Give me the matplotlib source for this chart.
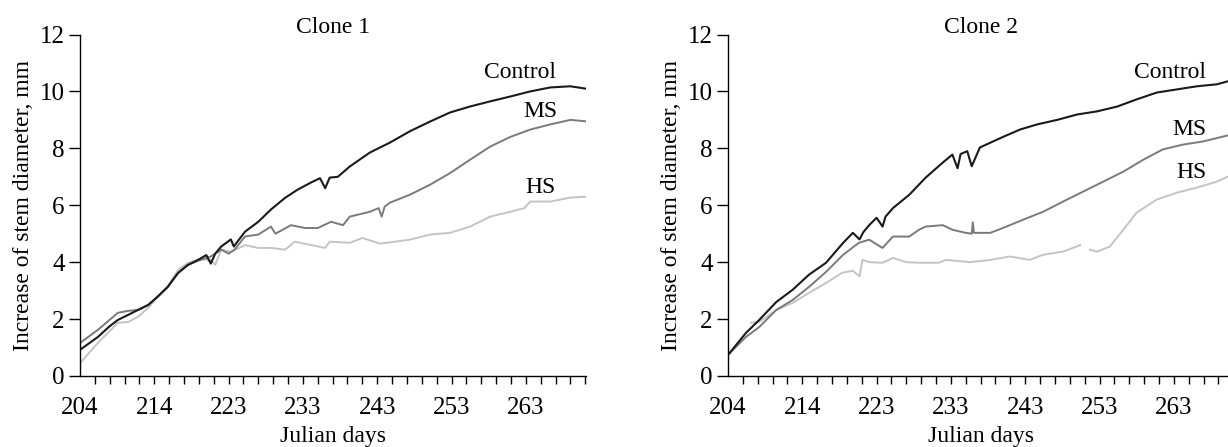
import numpy as np
import matplotlib
matplotlib.use("Agg")
import matplotlib.pyplot as plt

plt.rcParams["font.family"] = ["Liberation Serif", "DejaVu Serif"]
plt.rcParams["font.size"] = 17

# tick label text (the axis itself runs in days, ticks every 2 days)
tick_pos = [204, 214, 224, 234, 244, 254, 264]
tick_text = ["204", "214", "223", "233", "243", "253", "263"]

# ---- Clone 1 ----
c1_ctrl_day = [204, 206.4, 208, 209.1, 210.5, 211.8, 213.2, 214.5, 215.8, 217.2, 218.5, 219.9,
               221, 221.6, 222.2, 223, 223.8, 224.3, 224.7, 226.2, 228, 229.7, 231.6, 233.3,
               235.1, 236.3, 237, 237.6, 238.7, 240.3, 243, 245.7, 248.4, 251.1, 253.8, 256.5,
               259.2, 261.9, 264.6, 267.3, 270, 272]
c1_ctrl_val = [0.92, 1.37, 1.75, 1.97, 2.15, 2.32, 2.5, 2.8, 3.13, 3.62, 3.9, 4.08,
               4.25, 3.95, 4.3, 4.55, 4.7, 4.8, 4.55, 5.07, 5.42, 5.85, 6.26, 6.55,
               6.8, 6.95, 6.6, 6.97, 7.0, 7.36, 7.85, 8.2, 8.6, 8.94, 9.26, 9.47,
               9.65, 9.82, 10.0, 10.14, 10.18, 10.1]

c1_ms_day = [204, 206.4, 209.1, 210.5, 211.8, 213.2, 214.5, 215.8, 217.2, 218.5, 219.9, 221.6,
             223, 224, 224.8, 226.2, 228, 229.7, 230.3, 232.4, 234.3, 236, 237.8, 239.4,
             240.3, 243, 244.2, 244.6, 245, 245.7, 248.4, 251.1, 253.8, 256.5, 259.2, 261.9,
             264.6, 267.3, 270, 272]
c1_ms_val = [1.16, 1.62, 2.22, 2.29, 2.32, 2.5, 2.8, 3.13, 3.62, 3.9, 4.05, 4.2,
             4.44, 4.3, 4.44, 4.9, 4.97, 5.25, 5.0, 5.3, 5.2, 5.2, 5.42, 5.3,
             5.6, 5.77, 5.9, 5.6, 5.95, 6.09, 6.37, 6.72, 7.13, 7.6, 8.06, 8.4,
             8.66, 8.84, 9.0, 8.95]

c1_hs_day = [204, 206.4, 209.1, 210.5, 211.8, 213.2, 214.5, 215.8, 217.2, 218.5, 219.9, 221.6,
             222.2, 223, 224.3, 226.2, 228, 229.7, 231.6, 232.9, 235.1, 237, 237.6, 240.3,
             242, 244.4, 248.4, 251.1, 253.8, 256.5, 259.2, 261.9, 263.8, 264.6, 267.3, 270, 272]
c1_hs_val = [0.45, 1.16, 1.87, 1.9, 2.08, 2.4, 2.8, 3.13, 3.73, 3.97, 4.1, 4.08,
             3.9, 4.44, 4.36, 4.6, 4.5, 4.5, 4.44, 4.72, 4.6, 4.5, 4.72, 4.68,
             4.85, 4.65, 4.79, 4.97, 5.03, 5.25, 5.6, 5.77, 5.9, 6.13, 6.13, 6.27, 6.3]

# ---- Clone 2 ----
c2_ctrl_day = [204, 206.4, 208.2, 210.5, 212.7, 214.9, 217.2, 219.5, 220.8, 221.7, 222.2, 223,
               224, 224.8, 225.2, 226.2, 228.4, 230.6, 232.9, 234.2, 234.9, 235.3, 236.2, 236.8,
               237.9, 241, 243.3, 245.6, 248.3, 251, 253.7, 256.4, 259, 261.7, 264.4, 267.1,
               269.8, 271.2]
c2_ctrl_val = [0.74, 1.51, 1.97, 2.6, 3.03, 3.56, 3.98, 4.68, 5.03, 4.8, 5.05, 5.3,
               5.56, 5.25, 5.6, 5.9, 6.37, 6.97, 7.5, 7.78, 7.3, 7.8, 7.9, 7.37,
               8.03, 8.4, 8.66, 8.84, 9.0, 9.19, 9.3, 9.47, 9.72, 9.96, 10.07, 10.18,
               10.25, 10.35]

c2_ms_day = [204, 206.4, 208.2, 210.5, 212.7, 214.9, 217.2, 219.5, 221.6, 223, 224.8, 226.2,
             228.4, 229.7, 230.6, 232.9, 234.2, 236, 236.8, 236.95, 237.1, 239.3, 241, 243.7,
             246.4, 249.1, 251.8, 254.5, 257.2, 259.9, 262.5, 265.2, 267.9, 271.2]
c2_ms_val = [0.74, 1.37, 1.72, 2.32, 2.67, 3.13, 3.66, 4.26, 4.68, 4.79, 4.5, 4.9,
             4.9, 5.14, 5.25, 5.3, 5.14, 5.03, 5.0, 5.4, 5.03, 5.03, 5.2, 5.49,
             5.77, 6.13, 6.48, 6.83, 7.18, 7.6, 7.96, 8.13, 8.24, 8.45]

c2_hs_day = [207.1, 208.2, 210.5, 212.7, 214.9, 217.2, 219.4, 220.8, 221.7, 222.1, 223, 224.8,
             226.2, 228, 229.7, 232.4, 233.3, 236.6, 239.3, 241.9, 244.6, 246.4, 249.1, 251.4,
             252, 252.7, 253.7, 255.4, 257.2, 259, 261.7, 264.4, 267.1, 269.8, 271.2]
c2_hs_val = [1.87, 1.9, 2.32, 2.57, 2.92, 3.27, 3.63, 3.7, 3.5, 4.08, 4.0, 3.98,
             4.15, 4.0, 3.98, 3.98, 4.08, 4.0, 4.08, 4.2, 4.08, 4.26, 4.37, 4.6,
             np.nan, 4.44, 4.37, 4.55, 5.14, 5.74, 6.2, 6.44, 6.62, 6.83, 7.0]

colors = {"Control": "#1a1a1a", "MS": "#7a7a7a", "HS": "#c4c4c4"}

panels = [
    ("Clone 1", [("HS", c1_hs_day, c1_hs_val), ("MS", c1_ms_day, c1_ms_val),
                 ("Control", c1_ctrl_day, c1_ctrl_val)],
     {"Control": (263.2, 10.67), "MS": (266.0, 9.3), "HS": (266.0, 6.62)}),
    ("Clone 2", [("HS", c2_hs_day, c2_hs_val), ("MS", c2_ms_day, c2_ms_val),
                 ("Control", c2_ctrl_day, c2_ctrl_val)],
     {"Control": (263.5, 10.67), "MS": (266.1, 8.66), "HS": (266.4, 7.15)}),
]

fig = plt.figure(figsize=(12.28, 4.47), dpi=100)
lefts = [80 / 1228, 728 / 1228]

for left, (title, series, labels) in zip(lefts, panels):
    ax = fig.add_axes([left, 71 / 447, 506 / 1228, 341.5 / 447])
    for name, d, v in series:
        ax.plot(d, v, color=colors[name], lw=1.5 if name == "Control" else 1.4)
    for name, (x, y) in labels.items():
        ax.text(x, y, name, ha="center", va="center", fontsize=17)

    ax.set_xlim(204, 272.1)
    ax.set_ylim(0, 12)
    ax.set_yticks(range(0, 13, 2))
    ax.set_xticks(np.arange(204, 273, 2))
    ax.set_xticklabels([tick_text[tick_pos.index(t)] if t in tick_pos else "" for t in range(204, 273, 2)])
    ax.xaxis.get_major_ticks()[0].tick1line.set_visible(False)
    ax.tick_params(axis="x", direction="out", length=6, width=1, pad=9, labelsize=18)
    ax.tick_params(axis="y", direction="out", length=8, width=1, pad=3, labelsize=18)
    for s in ["top", "right"]:
        ax.spines[s].set_visible(False)
    for s in ["left", "bottom"]:
        ax.spines[s].set_linewidth(1.0)
    ax.set_title(title, fontsize=17, pad=1)
    ax.set_xlabel("Julian days", labelpad=5)
    ax.set_ylabel("Increase of stem diameter, mm", labelpad=4)

fig.savefig("out.png", dpi=100)
